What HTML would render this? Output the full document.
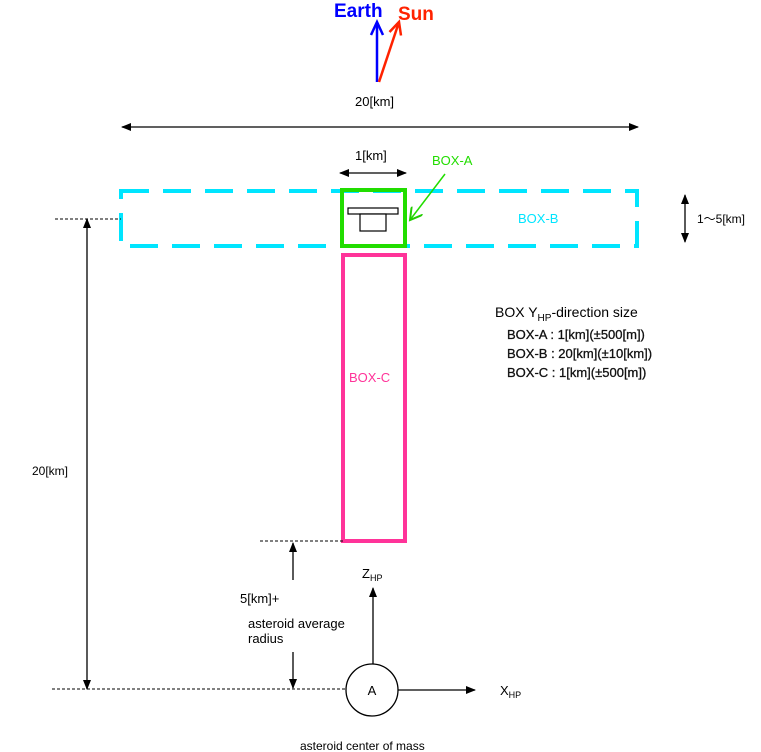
<!DOCTYPE html>
<html><head><meta charset="utf-8"><style>
html,body{margin:0;padding:0;background:#fff;}
svg{display:block;font-family:"Liberation Sans","Noto Sans CJK JP",sans-serif;}
</style></head><body>
<svg width="761" height="752" viewBox="0 0 761 752" xmlns="http://www.w3.org/2000/svg">
<defs>
<marker id="ab" markerWidth="10" markerHeight="10" refX="9" refY="5" orient="auto-start-reverse" markerUnits="userSpaceOnUse"><path d="M0,1 L10,5 L0,9 z" fill="#000"/></marker>
<marker id="agreen" markerWidth="14" markerHeight="14" refX="12" refY="7" orient="auto" markerUnits="userSpaceOnUse"><path d="M0,0 L12,7 L0,14" fill="none" stroke="#22cc00" stroke-width="2"/></marker>
</defs>
<!-- Earth/Sun -->
<text x="334" y="17" font-size="19" font-weight="bold" fill="#0000ff">Earth</text>
<text x="398" y="20" font-size="19" font-weight="bold" fill="#ff2200">Sun</text>
<line x1="377" y1="82" x2="377" y2="23" stroke="#0000ff" stroke-width="2.5"/>
<path d="M371,35 L377,22 L383,35" fill="none" stroke="#0000ff" stroke-width="2.5"/>
<line x1="379" y1="82" x2="398" y2="25" stroke="#ff2200" stroke-width="2.5"/>
<path d="M389.5,32 L399,22 L401,35.5" fill="none" stroke="#ff2200" stroke-width="2.5"/>
<text x="355" y="106" font-size="13">20[km]</text>
<line x1="122" y1="127" x2="638" y2="127" stroke="#000" stroke-width="1.3" marker-start="url(#ab)" marker-end="url(#ab)"/>
<!-- 1km -->
<text x="355" y="160" font-size="13">1[km]</text>
<line x1="340" y1="173" x2="406" y2="173" stroke="#000" stroke-width="1.3" marker-start="url(#ab)" marker-end="url(#ab)"/>
<!-- BOX-B -->
<rect x="121" y="191" width="516" height="55" fill="none" stroke="#00e5ff" stroke-width="4" stroke-dasharray="28,14"/>
<text x="518" y="223" font-size="13" fill="#00e5ff">BOX-B</text>
<!-- BOX-A -->
<rect x="342" y="190" width="63" height="56" fill="none" stroke="#22dd00" stroke-width="4"/>
<rect x="348" y="208" width="50" height="6" fill="#fff" stroke="#000" stroke-width="1.2"/>
<rect x="360" y="214" width="26" height="17" fill="#fff" stroke="#000" stroke-width="1.2"/>
<text x="432" y="165" font-size="13" fill="#22dd00">BOX-A</text>
<line x1="445" y1="174" x2="410" y2="220" stroke="#22dd00" stroke-width="1.5" marker-end="url(#agreen)"/>
<!-- 1~5km -->
<line x1="685" y1="195" x2="685" y2="242" stroke="#000" stroke-width="1.3" marker-start="url(#ab)" marker-end="url(#ab)"/>
<text x="697" y="223" font-size="12">1～5[km]</text>
<!-- BOX-C -->
<rect x="343" y="255" width="62" height="286" fill="none" stroke="#ff3399" stroke-width="4"/>
<text x="349" y="382" font-size="13" fill="#ff3399">BOX-C</text>
<!-- size table -->
<text x="495" y="317" font-size="14">BOX Y<tspan font-size="10" dy="4">HP</tspan><tspan dy="-4">-direction size</tspan></text>
<g font-size="13" fill="#111" stroke="#111" stroke-width="0.3">
<text x="507" y="339">BOX-A : 1[km](±500[m])</text>
<text x="507" y="358">BOX-B : 20[km](±10[km])</text>
<text x="507" y="377">BOX-C : 1[km](±500[m])</text>
</g>
<!-- left 20km -->
<line x1="55" y1="219" x2="121" y2="219" stroke="#000" stroke-dasharray="3,2"/>
<line x1="87" y1="219" x2="87" y2="689" stroke="#000" stroke-width="1.3" marker-start="url(#ab)" marker-end="url(#ab)"/>
<text x="32" y="475" font-size="12">20[km]</text>
<line x1="52" y1="689" x2="345" y2="689" stroke="#000" stroke-dasharray="3,2"/>
<!-- 5km -->
<line x1="260" y1="541" x2="343" y2="541" stroke="#000" stroke-dasharray="3,2"/>
<line x1="293" y1="543" x2="293" y2="580" stroke="#000" stroke-width="1.3" marker-start="url(#ab)"/>
<line x1="293" y1="652" x2="293" y2="688" stroke="#000" stroke-width="1.3" marker-end="url(#ab)"/>
<text x="240" y="603" font-size="13">5[km]+</text>
<text x="248" y="628" font-size="13">asteroid average</text>
<text x="248" y="643" font-size="13">radius</text>
<!-- axes -->
<line x1="373" y1="665" x2="373" y2="588" stroke="#000" stroke-width="1.3" marker-end="url(#ab)"/>
<text x="362" y="578" font-size="13">Z<tspan font-size="9" dy="3">HP</tspan></text>
<line x1="398" y1="690" x2="475" y2="690" stroke="#000" stroke-width="1.3" marker-end="url(#ab)"/>
<text x="500" y="695" font-size="13">X<tspan font-size="9" dy="3">HP</tspan></text>
<circle cx="372" cy="690" r="26" fill="#fff" stroke="#000" stroke-width="1.3"/>
<text x="372" y="695" font-size="13" text-anchor="middle">A</text>
<text x="300" y="750" font-size="12">asteroid center of mass</text>
</svg>
</body></html>
